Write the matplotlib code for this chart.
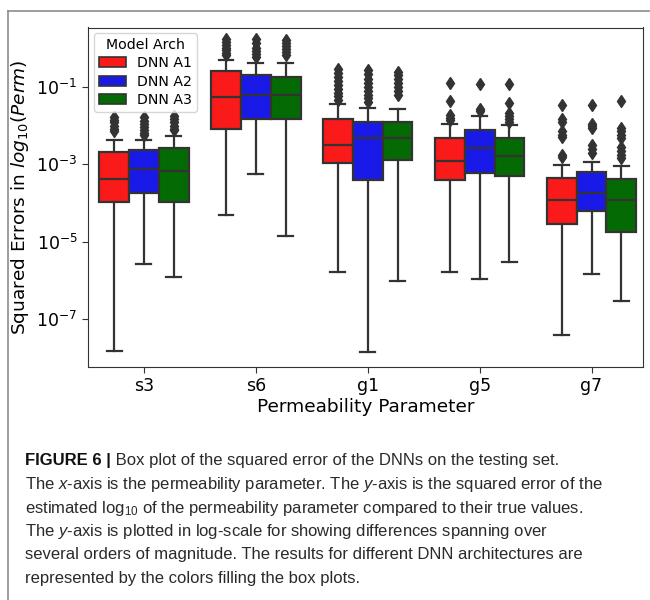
import matplotlib
matplotlib.use("Agg")
import matplotlib.pyplot as plt
from matplotlib.patches import Patch
from matplotlib.lines import Line2D
from matplotlib import font_manager
import numpy as np

# Squared error statistics per permeability parameter, stored as log10 values
params = ["s3", "s6", "g1", "g5", "g7"]
archs = ["DNN A1", "DNN A2", "DNN A3"]
arch_colors = ["#fa1a1a", "#1a1ae8", "#046a04"]

# rows = architecture, columns = parameter
q1_log = [
    [-3.97, -2.09, -2.96, -3.41, -4.53],
    [-3.74, -1.83, -3.41, -3.22, -4.20],
    [-3.97, -1.84, -2.89, -3.30, -4.74],
]
med_log = [
    [-3.38, -1.26, -2.49, -2.91, -3.91],
    [-3.12, -1.20, -2.33, -2.58, -3.73],
    [-3.17, -1.21, -2.31, -2.78, -3.92],
]
q3_log = [
    [-2.69, -0.59, -1.82, -2.31, -3.35],
    [-2.62, -0.70, -1.90, -2.11, -3.21],
    [-2.57, -0.75, -1.90, -2.32, -3.38],
]
whislo_log = [
    [-7.81, -4.31, -5.79, -5.79, -7.40],
    [-5.56, -3.26, -7.84, -5.95, -5.84],
    [-5.92, -4.85, -6.00, -5.53, -6.53],
]
whishi_log = [
    [-2.38, -0.31, -1.45, -1.95, -3.02],
    [-2.38, -0.38, -1.56, -1.75, -2.93],
    [-2.28, -0.38, -1.58, -1.99, -3.05],
]
fliers_log = [
    [
        [-1.78, -1.85, -1.92, -2.00, -2.08, -2.15],
        [0.23, 0.15, 0.08, 0.00, -0.06, -0.12, -0.18],
        [-0.55, -0.65, -0.75, -0.85, -0.95, -1.05, -1.15, -1.25, -1.34],
        [-0.90, -1.37, -1.73, -1.80, -1.86],
        [-1.47, -1.84, -1.90, -2.15, -2.25, -2.30, -2.75, -2.82],
    ],
    [
        [-1.78, -1.88, -1.97, -2.05, -2.12, -2.20, -2.25],
        [0.23, 0.12, 0.00, -0.08, -0.15, -0.23],
        [-0.57, -0.68, -0.80, -0.90, -1.00, -1.10, -1.20, -1.30, -1.40],
        [-0.93, -1.57, -1.62],
        [-1.47, -1.95, -2.00, -2.07, -2.50, -2.60, -2.72],
    ],
    [
        [-1.76, -1.84, -1.92, -2.00, -2.08, -2.12],
        [0.22, 0.14, 0.06, -0.02, -0.10, -0.18],
        [-0.61, -0.70, -0.80, -0.90, -1.00, -1.10, -1.20],
        [-0.93, -1.43, -1.68, -1.75, -1.82, -1.90],
        [-1.37, -2.07, -2.15, -2.25, -2.33, -2.55, -2.65, -2.75, -2.85],
    ],
]

caption_head = "FIGURE 6 |"
caption_lines = [
    " Box plot of the squared error of the DNNs on the testing set.",
    "The $x$-axis is the permeability parameter. The $y$-axis is the squared error of the",
    "estimated log$_{10}$ of the permeability parameter compared to their true values.",
    "The $y$-axis is plotted in log-scale for showing differences spanning over",
    "several orders of magnitude. The results for different DNN architectures are",
    "represented by the colors filling the box plots.",
]

# caption font: narrow sans if available
installed = {f.name for f in font_manager.fontManager.ttflist}
cap_font = "Liberation Sans Narrow" if "Liberation Sans Narrow" in installed else "Liberation Sans"
plt.rcParams["mathtext.fontset"] = "custom"
plt.rcParams["mathtext.rm"] = cap_font
plt.rcParams["mathtext.it"] = cap_font + ":italic"
plt.rcParams["mathtext.bf"] = cap_font + ":bold"

W, H = 650, 600
fig = plt.figure(figsize=(W / 100, H / 100), dpi=100)
fig.patch.set_facecolor("white")

ax = fig.add_axes([88 / W, 1 - 367 / H, (643 - 88) / W, (367 - 27.5) / H])

edge = "#333333"
box_w = 0.8 / 3
stats = []
for j in range(len(archs)):
    for i in range(len(params)):
        stats.append(dict(
            med=10 ** med_log[j][i],
            q1=10 ** q1_log[j][i],
            q3=10 ** q3_log[j][i],
            whislo=10 ** whislo_log[j][i],
            whishi=10 ** whishi_log[j][i],
            fliers=10 ** np.array(fliers_log[j][i]),
        ))

for j, color in enumerate(arch_colors):
    pos = np.arange(len(params)) + (j - 1) * box_w
    ax.bxp(
        stats[j * len(params):(j + 1) * len(params)],
        positions=pos,
        widths=box_w,
        patch_artist=True,
        manage_ticks=False,
        boxprops=dict(facecolor=color, edgecolor=edge, linewidth=1.6),
        medianprops=dict(color=edge, linewidth=1.6),
        whiskerprops=dict(color=edge, linewidth=1.6),
        capprops=dict(color=edge, linewidth=1.6),
        flierprops=dict(marker="d", markerfacecolor=edge, markeredgecolor=edge,
                        markersize=6.5, linestyle="none"),
    )

ax.set_yscale("log")
ax.set_ylim(10 ** -8.23, 10 ** 0.53)
ax.set_xlim(-0.5, 4.46)
ax.set_yticks([1e-1, 1e-3, 1e-5, 1e-7])
ax.yaxis.set_minor_locator(matplotlib.ticker.NullLocator())
ax.set_xticks(range(len(params)))
ax.set_xticklabels(params)
ax.tick_params(labelsize=12.5, color="#333333", length=4)
for sp in ax.spines.values():
    sp.set_color("#333333")

ax.set_xlabel("Permeability Parameter", fontsize=13.3, labelpad=2)
ax.set_ylabel("Squared Errors in $log_{10}(Perm)$", fontsize=13.3,
              math_fontfamily="dejavusans", labelpad=4)
for lab in ax.get_yticklabels():
    lab.set_math_fontfamily("dejavusans")

handles = [Patch(facecolor=c, edgecolor=edge, linewidth=1.2) for c in arch_colors]
leg = ax.legend(handles, archs, title="Model Arch", loc="upper left",
                fontsize=10.2, title_fontsize=10.2, borderaxespad=0.4,
                labelspacing=0.3, borderpad=0.35, handletextpad=0.8,
                handlelength=1.9)

# outer figure frame
fig.add_artist(Line2D([7.5 / W, 7.5 / W], [0, 1 - 10.5 / H], transform=fig.transFigure,
                      color="#8c8c8c", linewidth=1.2))
fig.add_artist(Line2D([7.5 / W, 1], [1 - 10.5 / H, 1 - 10.5 / H], transform=fig.transFigure,
                      color="#8c8c8c", linewidth=1.2))

# caption
cap_x = 25 / W
line_y = [461, 484.5, 508, 531.5, 555, 578.5]
cap_size = 12.0
head = fig.text(cap_x, 1 - line_y[0] / H, caption_head, fontsize=cap_size, fontweight="bold",
                family=cap_font, color="#111111", va="center", math_fontfamily="custom")
fig.canvas.draw()
bb = head.get_window_extent(fig.canvas.get_renderer())
fig.text(bb.x1 / W, 1 - line_y[0] / H, caption_lines[0], fontsize=cap_size, family=cap_font,
         color="#2a2a2a", va="center", math_fontfamily="custom")
for k in range(1, len(caption_lines)):
    fig.text(cap_x, 1 - line_y[k] / H, caption_lines[k], fontsize=cap_size, family=cap_font,
             color="#2a2a2a", va="center", math_fontfamily="custom")

fig.savefig("out.png", dpi=100)
